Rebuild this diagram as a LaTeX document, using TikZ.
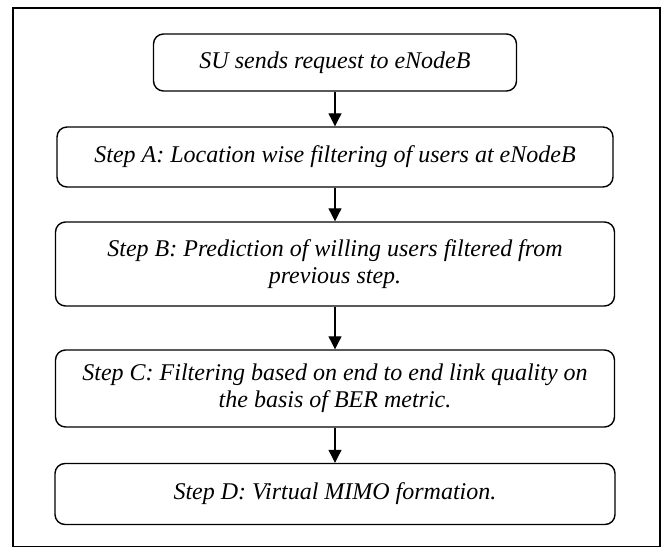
\documentclass[tikz,border=0pt]{standalone}
\usepackage{fontspec}
\setmainfont{Liberation Serif}
\usepackage{tikz}
\usetikzlibrary{arrows.meta}

\begin{document}
\begin{tikzpicture}[x=1pt,y=-1pt]
\tikzset{stepbox/.style = {shape=rectangle,draw,rounded corners=10pt,line width=1.4pt,inner sep=0pt,align=center,font=\fontsize{24}{27}\selectfont\itshape}}
\tikzset{edge/.style = {-{Triangle[length=13pt,width=13pt]},line width=1.1pt}}
\useasboundingbox (0,0) rectangle (665,548);
\draw[line width=1.5pt] (13,8) rectangle (660,546.5);
\node[stepbox,minimum width=363pt,minimum height=57pt] (s) at (335,62.5) {SU sends request to eNodeB};
\node[stepbox,minimum width=556pt,minimum height=60pt] (a) at (335,157) {Step A: Location wise filtering of users at eNodeB};
\node[stepbox,minimum width=559pt,minimum height=84pt] (b) at (335,264) {Step B: Prediction of willing users filtered from\\previous step.};
\node[stepbox,minimum width=559pt,minimum height=77pt] (c) at (335,388.5) {Step C: Filtering based on end to end link quality on\\the basis of BER metric.};
\node[stepbox,minimum width=560pt,minimum height=61pt] (d) at (335,494) {Step D: Virtual MIMO formation.};
%\draw[edge] (s.south) to (a.north);
\draw[edge] (s) to (a);
\draw[edge] (a) to (b);
\draw[edge] (b) to (c);
\draw[edge] (c) to (d);
\end{tikzpicture}
\end{document}
